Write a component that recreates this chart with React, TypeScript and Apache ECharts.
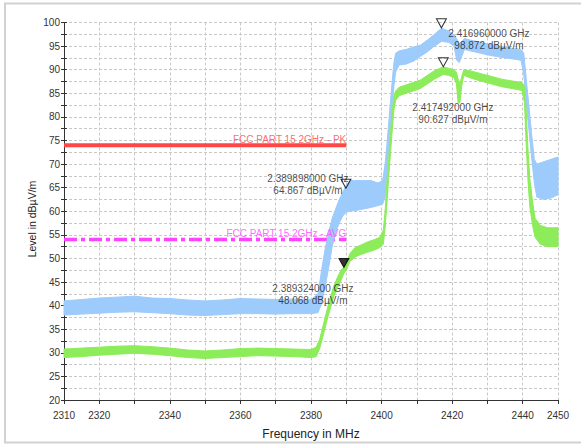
import React, { useEffect, useRef } from "react";
import * as echarts from "echarts";

// Peak trace (blue): frequency (MHz) with lower / upper envelope of the noisy trace (dBµV/m)
const peakFreq = [2310, 2315, 2320, 2325, 2330, 2335, 2340, 2345, 2350, 2355, 2360, 2365, 2370, 2375, 2380, 2382, 2383, 2384, 2385, 2386, 2387, 2388, 2389, 2390, 2391, 2393, 2395, 2397, 2399, 2400.3, 2401, 2401.5, 2402, 2402.5, 2403, 2403.5, 2404, 2405, 2407, 2409, 2411, 2413, 2415, 2417, 2419, 2420.5, 2421.3, 2422, 2422.8, 2423.5, 2425, 2428, 2431, 2434, 2437, 2439.5, 2440.3, 2441, 2441.8, 2442.5, 2443.3, 2444, 2446, 2448, 2450];
const peakLow = [38.0, 38.2, 38.4, 38.6, 38.7, 38.5, 38.3, 38.0, 37.9, 38.1, 38.3, 38.3, 38.2, 38.3, 38.3, 38.5, 40.5, 44.0, 48.0, 52.5, 55.5, 57.5, 59.0, 59.8, 60.0, 60.2, 60.5, 60.8, 61.2, 61.5, 63.0, 68.0, 73.0, 77.5, 82.0, 86.5, 89.5, 91.0, 91.2, 91.8, 92.8, 93.8, 95.0, 96.0, 95.8, 95.0, 92.0, 91.5, 93.0, 94.3, 94.0, 93.5, 93.0, 92.6, 92.3, 92.0, 89.0, 83.0, 77.0, 71.5, 66.0, 63.0, 62.5, 62.8, 63.5];
const peakHigh = [41.0, 41.3, 41.6, 41.8, 42.0, 41.6, 41.5, 41.2, 41.0, 41.2, 41.5, 41.4, 41.3, 41.4, 41.3, 42.5, 47.5, 52.0, 55.5, 58.5, 60.5, 62.5, 64.0, 65.5, 66.5, 66.5, 66.5, 66.5, 66.0, 66.5, 70.0, 74.0, 78.5, 83.0, 87.5, 91.5, 93.5, 94.0, 94.3, 94.8, 95.2, 96.3, 97.5, 98.8, 98.2, 97.4, 96.5, 95.5, 96.0, 96.6, 96.3, 95.8, 95.3, 94.9, 94.5, 94.3, 93.5, 88.0, 82.0, 76.5, 71.0, 70.0, 70.5, 71.0, 71.5];

// Average trace (green)
const avgFreq = [2310, 2315, 2320, 2325, 2330, 2335, 2340, 2345, 2350, 2355, 2360, 2365, 2370, 2375, 2380, 2381.5, 2382.5, 2383.5, 2384.5, 2385.5, 2386.5, 2387.5, 2388.5, 2389.3, 2390, 2391, 2392.5, 2394, 2396, 2398, 2399.5, 2400.5, 2401, 2401.5, 2402, 2402.5, 2403, 2403.5, 2404, 2405, 2407, 2409, 2411, 2413, 2415, 2417.5, 2419, 2420.5, 2421.2, 2421.7, 2422.2, 2422.7, 2423.3, 2425, 2428, 2431, 2434, 2437, 2439.8, 2440.5, 2441, 2441.5, 2442, 2442.8, 2443.5, 2445, 2447, 2450];
const avgLow = [29.0, 29.2, 29.5, 29.7, 29.9, 29.7, 29.4, 29.0, 28.8, 29.0, 29.2, 29.4, 29.3, 29.2, 29.0, 29.2, 31.0, 33.8, 36.8, 39.5, 42.0, 43.8, 45.3, 46.8, 47.5, 49.3, 50.3, 50.8, 51.3, 51.8, 52.3, 53.0, 56.5, 61.5, 67.0, 72.0, 77.0, 81.5, 83.5, 84.5, 85.0, 85.5, 86.0, 87.0, 88.0, 89.0, 88.8, 88.3, 87.0, 83.0, 83.0, 86.5, 88.8, 88.3, 87.6, 87.0, 86.4, 86.0, 85.6, 83.0, 74.0, 66.5, 61.0, 57.0, 54.5, 53.0, 52.5, 52.5];
const avgHigh = [30.8, 31.0, 31.2, 31.4, 31.5, 31.3, 31.0, 30.6, 30.4, 30.6, 30.9, 31.0, 30.9, 30.8, 30.7, 31.2, 33.0, 36.0, 39.0, 41.8, 44.2, 46.0, 47.5, 48.1, 49.0, 51.0, 52.3, 52.8, 53.5, 54.0, 54.5, 56.0, 60.0, 66.0, 71.0, 76.5, 81.0, 84.5, 85.5, 86.3, 86.8, 87.3, 87.8, 88.8, 89.8, 90.6, 90.3, 90.0, 89.5, 88.0, 87.0, 88.5, 90.0, 89.8, 89.2, 88.6, 88.0, 87.6, 87.3, 86.5, 81.0, 73.0, 67.0, 62.0, 58.5, 57.0, 56.5, 56.5];

// Limit lines
const limitFreq = [2310, 2390];
const pkLimit = 74;
const avgLimit = 54;
const pkLimitLabel = "FCC PART 15 2GHz - PK";
const avgLimitLabel = "FCC PART 15 2GHz - AVG";

// Markers
const markerFreq = [2416.96, 2417.492, 2389.898, 2389.324];
const markerLevel = [98.872, 90.627, 64.867, 48.068];
const markerFilled = [false, false, false, true];

const xLabelValues = [2310, 2320, 2340, 2360, 2380, 2400, 2420, 2440, 2450];

const FONT = "'Liberation Sans', Arial, Helvetica, sans-serif";
const BLUE = "#9ccbfc";
const GREEN = "#8cec5a";
const RED = "#ff4646";
const MAGENTA = "#ff44ff";

function bandSeries(freq: number[], low: number[], high: number[], color: string, z: number) {
  return {
    type: "custom",
    coordinateSystem: "cartesian2d",
    xAxisIndex: 0,
    yAxisIndex: 0,
    silent: true,
    z,
    data: [[freq[0], low[0]]],
    renderItem: (_params: any, api: any) => {
      const top = freq.map((f, i) => api.coord([f, high[i]]));
      const bottom = freq.map((f, i) => api.coord([f, low[i]])).reverse();
      return {
        type: "polygon",
        shape: { points: top.concat(bottom) },
        style: { fill: color, stroke: color, lineWidth: 1 },
      };
    },
  };
}

export default function App() {
  const ref = useRef<HTMLDivElement>(null);
  useEffect(() => {
    if (!ref.current) return;
    const chart = echarts.init(ref.current, undefined, { renderer: "svg" });
    const markerOffsets = [
      [47.5, 16.9],
      [9.6, 51.3],
      [-38, 1.7],
      [-31, 32.4],
    ];
    const option: any = {
      animation: false,
      backgroundColor: "#ffffff",
      textStyle: { fontFamily: FONT },
      grid: { left: 64, right: 23, top: 22.5, bottom: 45, containLabel: false },
      graphic: [
        {
          type: "rect",
          shape: { x: 5, y: 3.5, width: 600, height: 439 },
          style: { fill: "none", stroke: "#d2d2d2", lineWidth: 2 },
          silent: true,
        },
        {
          type: "text",
          x: 31.5,
          y: 219,
          rotation: Math.PI / 2,
          style: {
            text: "Level in dBµV/m",
            fontFamily: FONT,
            fontSize: 10.5,
            fill: "#222",
            align: "center",
            verticalAlign: "middle",
          },
        },
      ],
      xAxis: {
        type: "value",
        min: 2310,
        max: 2450,
        interval: 10,
        name: "Frequency in MHz",
        nameLocation: "middle",
        nameGap: 28,
        nameTextStyle: { fontSize: 12, color: "#222", fontFamily: FONT },
        axisLine: { show: true, onZero: false, lineStyle: { color: "#333", width: 1 } },
        axisTick: { show: true, length: 4, lineStyle: { color: "#333" } },
        axisLabel: {
          fontSize: 10,
          color: "#333",
          margin: 10,
          showMinLabel: true,
          showMaxLabel: true,
          formatter: (v: number) => (xLabelValues.indexOf(v) >= 0 ? String(v) : ""),
        },
        splitLine: { show: true, lineStyle: { color: "#c8c8c8", type: [3, 2], width: 1 } },
      },
      yAxis: [
        {
          type: "value",
          min: 20,
          max: 100,
          interval: 2.5,
          position: "left",
          axisLine: { show: true, onZero: false, lineStyle: { color: "#333", width: 1 } },
          axisTick: { show: true, length: 3, lineStyle: { color: "#333" } },
          axisLabel: {
            fontSize: 10,
            color: "#333",
            margin: 4,
            formatter: (v: number) => (v % 5 === 0 ? String(v) : ""),
          },
          splitLine: { show: true, lineStyle: { color: "#c8c8c8", type: [3, 2], width: 1 } },
        },
        {
          type: "value",
          min: 20,
          max: 100,
          interval: 2.5,
          position: "left",
          axisLine: { show: false },
          axisTick: { show: true, inside: true, length: 3, lineStyle: { color: "#333" } },
          axisLabel: { show: false },
          splitLine: { show: false },
        },
      ],
      series: [
        {
          type: "line",
          data: limitFreq.map((f) => [f, pkLimit]),
          symbol: "none",
          silent: true,
          z: 1,
          lineStyle: { color: RED, width: 4 },
        },
        {
          type: "line",
          data: limitFreq.map((f) => [f, avgLimit]),
          symbol: "none",
          silent: true,
          z: 1,
          lineStyle: { color: MAGENTA, width: 3.5, type: [13, 4, 4, 4] },
        },
        bandSeries(peakFreq, peakLow, peakHigh, BLUE, 2),
        bandSeries(avgFreq, avgLow, avgHigh, GREEN, 3),
        {
          type: "scatter",
          z: 6,
          silent: true,
          symbolSize: 1,
          itemStyle: { color: "rgba(0,0,0,0)" },
          data: [
            { value: [limitFreq[1], pkLimit], label: { color: RED, formatter: pkLimitLabel } },
            { value: [limitFreq[1], avgLimit], label: { color: MAGENTA, formatter: avgLimitLabel } },
          ],
          label: {
            show: true,
            position: "inside",
            align: "right",
            verticalAlign: "middle",
            offset: [0, -6],
            fontSize: 10,
            fontFamily: FONT,
          },
        },
        {
          type: "scatter",
          z: 7,
          silent: true,
          symbol: "path://M0,0L10,0L5,9Z",
          symbolSize: [10, 9],
          symbolOffset: [0, -4.5],
          data: markerFreq.map((f, i) => ({
            value: [f, markerLevel[i]],
            itemStyle: {
              color: markerFilled[i] ? "#000" : "rgba(255,255,255,0)",
              borderColor: "#000",
              borderWidth: 1,
            },
            label: { offset: [markerOffsets[i][0], markerOffsets[i][1] - 0.5] },
          })),
          label: {
            show: true,
            position: "inside",
            align: "center",
            verticalAlign: "middle",
            fontSize: 10,
            lineHeight: 12,
            color: "#1a1a1a",
            fontFamily: FONT,
            formatter: (p: any) =>
              `${(markerFreq[p.dataIndex] / 1000).toFixed(9)} GHz\n${markerLevel[p.dataIndex].toFixed(3)} dBµV/m`,
          },
        },
      ],
    };
    chart.setOption(option);
    return () => chart.dispose();
  }, []);
  return (
    <div
      ref={ref}
      style={{ position: "absolute", left: 0, top: 0, width: 581, height: 445 }}
    />
  );
}
